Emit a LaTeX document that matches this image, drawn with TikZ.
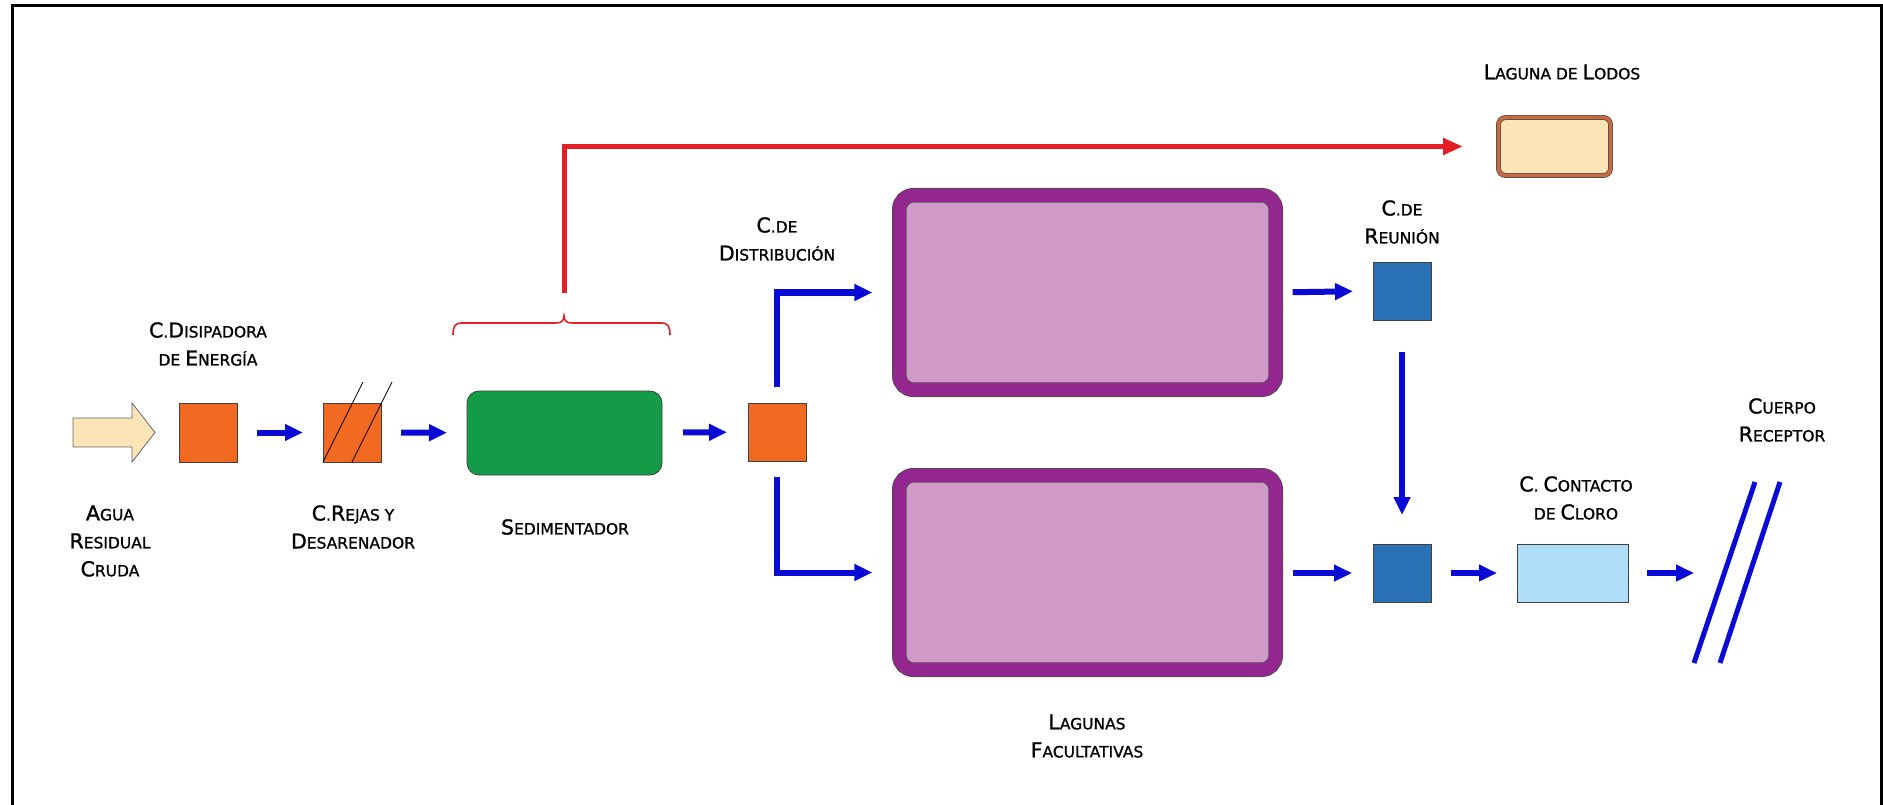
\documentclass[tikz,border=0pt]{standalone}
\usepackage{fontspec}
\setmainfont{DejaVu Sans}[FakeBold=1.2]
\usetikzlibrary{arrows.meta}
\definecolor{orng}{HTML}{F26A22}
\definecolor{sedgreen}{HTML}{149B47}
\definecolor{steel}{HTML}{2A72B5}
\definecolor{cloro}{HTML}{AFDDF5}
\definecolor{purp}{HTML}{93278F}
\definecolor{orchid}{HTML}{CF9AC7}
\definecolor{cream}{HTML}{FCE4B6}
\definecolor{flowblue}{HTML}{0A0AD6}
\definecolor{redflow}{HTML}{E31E24}
\definecolor{lodosedge}{HTML}{C8693E}
\newcommand\Bg[1]{{\fontsize{20.5}{28}\selectfont #1}}
\tikzset{
  lbl/.style={align=center, font=\fontsize{15.5}{28}\selectfont, inner sep=0pt},
  box/.style={draw=black!75, line width=0.8pt, inner sep=0pt, outer sep=0pt},
  lagoon/.style={fill=orchid, draw=black!70, double=purp, double distance=13pt, line width=0.8pt,
    rounded corners=14pt, minimum width=376.4pt, minimum height=194.4pt, inner sep=0pt, outer sep=0pt},
  flow/.style={draw=flowblue, line width=6pt, -{Triangle[length=18pt,width=16pt]}},
  redflowline/.style={draw=redflow, line width=5pt, -{Triangle[length=20pt,width=16pt]}},
  recline/.style={draw=flowblue, line width=5pt},
}
\begin{document}
\begin{tikzpicture}[x=1pt,y=-1pt]
\useasboundingbox (0,0) rectangle (1883,805);
% frame
\draw[line width=3pt] (12,805) -- (12,6) -- (1881,6) -- (1881,805);

% input arrow
\draw[draw=black!60, fill=cream, line width=0.8pt]
  (73,418) -- (132,418) -- (132,403) -- (155,432.5) -- (132,462) -- (132,447) -- (73,447) -- cycle;

% boxes
\node[box, fill=orng, minimum width=58pt, minimum height=59pt] (dis) at (208,432.5) {};
\node[box, fill=orng, minimum width=58pt, minimum height=59pt] (rej) at (352,432.5) {};
\draw[line width=0.8pt] (323,462) -- (363,382);
\draw[line width=0.8pt] (352,462) -- (392,382);
\node[box, fill=sedgreen, rounded corners=12pt, minimum width=195pt, minimum height=84pt] (sed) at (564.5,433) {};
\node[box, fill=orng, minimum width=58pt, minimum height=58pt] (dist) at (777,432) {};
\node[lagoon] (lagA) at (1087.5,292.5) {};
\node[lagoon] (lagB) at (1087.5,572.5) {};
\node[box, fill=steel, minimum width=58pt, minimum height=58pt] (reun) at (1402,291) {};
\node[box, fill=steel, minimum width=58pt, minimum height=58pt] (join) at (1402,573) {};
\node[box, fill=cloro, minimum width=111pt, minimum height=58pt] (clor) at (1572.5,573) {};
\node[fill=cream, draw=black!70, double=lodosedge, double distance=3.5pt, line width=0.7pt,
  rounded corners=7pt, minimum width=112pt, minimum height=58pt, inner sep=0pt, outer sep=0pt] (lodos) at (1554.5,146.5) {};

% receptor lines
\draw[recline] (1694,663) -- (1755,482);
\draw[recline] (1720,663) -- (1780,482);
\coordinate (cuerpoin) at (1694,573);

% brace
\draw[redflow, line width=1.6pt]
  (453,335) .. controls (453,326) and (455,323) .. (462,323) -- (556,323)
  .. controls (561,323) and (564,321) .. (564,316)
  .. controls (564,321) and (567,323) .. (572,323) -- (661,323)
  .. controls (668,323) and (670,326) .. (670,335);
\coordinate (bracetip) at (564,316);

% flows
\draw[flow, shorten <=20pt, shorten >=20pt] (dis) -- (rej);
\draw[flow, shorten <=20pt, shorten >=20pt] (rej) -- (sed);
\draw[flow, shorten <=21pt, shorten >=21pt] (sed) -- (dist);
\draw[flow, shorten <=16pt, shorten >=27pt] (dist.north) |- (lagA.west);
\draw[flow, shorten <=16pt, shorten >=27pt] (dist.south) |- (lagB.west);
\draw[flow, shorten <=17pt, shorten >=20pt] (lagA.east) -- (reun.west);
\draw[flow, shorten <=32pt, shorten >=29pt] (reun.south) -- (join.north);
\draw[flow, shorten <=17pt, shorten >=21pt] (lagB.east |- join.west) -- (join.west);
\draw[flow, shorten <=20pt, shorten >=20pt] (join) -- (clor);
\draw[flow, shorten <=19pt] (clor.east) -- (cuerpoin);
\draw[redflowline, shorten <=23pt, shorten >=35.5pt] (bracetip) |- (lodos.west);

% labels
\node[lbl] (tdis) at (208,344) {\Bg{C}.\Bg{D}ISIPADORA\\DE \Bg{E}NERGÍA};
\node[lbl] (tagua) at (110,541) {\Bg{A}GUA\\\Bg{R}ESIDUAL\\\Bg{C}RUDA};
\node[lbl] (trej) at (353,527) {\Bg{C}.\Bg{R}EJAS Y\\\Bg{D}ESARENADOR};
\node[lbl] (tsed) at (565,527) {\Bg{S}EDIMENTADOR};
\node[lbl] (tdist) at (777,239) {\Bg{C}.DE\\\Bg{D}ISTRIBUCIÓN};
\node[lbl] (tlodos) at (1562,72) {\Bg{L}AGUNA DE \Bg{L}ODOS};
\node[lbl] (treun) at (1402,222) {\Bg{C}.DE\\\Bg{R}EUNIÓN};
\node[lbl] (tlag) at (1087,736) {\Bg{L}AGUNAS\\\Bg{F}ACULTATIVAS};
\node[lbl] (tclor) at (1576,498) {\Bg{C}. \Bg{C}ONTACTO\\DE \Bg{C}LORO};
\node[lbl] (tcuer) at (1782,420) {\Bg{C}UERPO\\\Bg{R}ECEPTOR};
\end{tikzpicture}
\end{document}
